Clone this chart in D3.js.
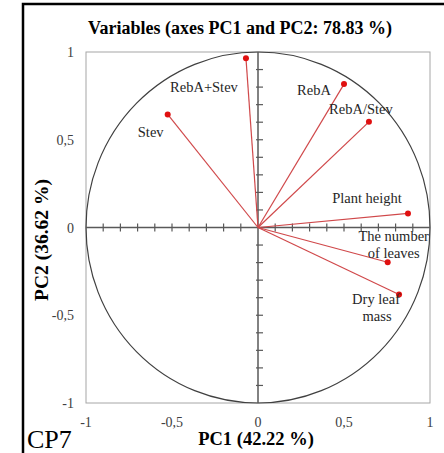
<!DOCTYPE html>
<meta charset="utf-8">
<style>
    body { margin: 0; background: #fff; }
    svg { font-family: "Liberation Serif", "Times New Roman", serif; }
    .frame { fill: none; stroke: #000; stroke-width: 2.5px; }
    .plotbox { fill: none; stroke: #a6a6a6; stroke-width: 1px; }
    .circle { fill: none; stroke: #404040; stroke-width: 1.2px; }
    .zero { stroke: #595959; stroke-width: 1.5px; }
    .tick { stroke: #595959; stroke-width: 1.2px; }
    .vec { stroke: #d0484a; stroke-width: 1.2px; }
    .pt { fill: #e01010; }
    .ticklabel { font-size: 14px; fill: #404040; }
    .varlabel { font-size: 14.5px; fill: #262626; }
    .title { font-size: 18px; font-weight: bold; }
    .axtitle { font-size: 18.5px; font-weight: bold; }
</style>

<body>
<script src="https://cdnjs.cloudflare.com/ajax/libs/d3/7.8.5/d3.min.js"></script>
<script>
    // variables and their loadings on PC1 / PC2
    var variables = ["RebA+Stev", "RebA", "RebA/Stev", "Stev", "Plant height", "The number of leaves", "Dry leaf mass"];
    var pc1 = [-0.07, 0.50, 0.645, -0.525, 0.872, 0.754, 0.82];
    var pc2 = [0.965, 0.817, 0.602, 0.644, 0.08, -0.198, -0.382];
    var tickValues = [-1, -0.5, 0, 0.5, 1];

    // label placement (pixel offsets from the point, one line per entry)
    var labelLines = [
        [["RebA+Stev", -42, 29]],
        [["RebA", -30, 6]],
        [["RebA/Stev", -8, -13]],
        [["Stev", -17, 18]],
        [["Plant height", -41, -15]],
        [["The number", 6, -26], ["of leaves", 6, -9]],
        [["Dry leaf", -23, 4], ["mass", -22, 21]]
    ];

    var W = 444, H = 453;
    var svg = d3.select("body").append("svg")
        .attr("width", W)
        .attr("height", H);

    // outer frame (runs off the right and bottom)
    svg.append("rect")
        .attr("class", "frame")
        .attr("x", 23).attr("y", 4)
        .attr("width", 460).attr("height", 470);

    var x = d3.scaleLinear().domain([-1, 1]).range([86, 430]);
    var y = d3.scaleLinear().domain([-1, 1]).range([403, 52]);
    var fmt = function(d) { return String(d).replace(".", ","); };

    svg.append("rect")
        .attr("class", "plotbox")
        .attr("x", x(-1)).attr("y", y(1))
        .attr("width", x(1) - x(-1)).attr("height", y(-1) - y(1));

    // correlation circle
    svg.append("ellipse")
        .attr("class", "circle")
        .attr("cx", x(0)).attr("cy", y(0))
        .attr("rx", x(1) - x(0)).attr("ry", y(0) - y(1));

    // axes through the origin
    svg.append("line").attr("class", "zero")
        .attr("x1", x(-1)).attr("x2", x(1)).attr("y1", y(0)).attr("y2", y(0));
    svg.append("line").attr("class", "zero")
        .attr("x1", x(0)).attr("x2", x(0)).attr("y1", y(-1)).attr("y2", y(1));

    var minor = d3.range(-9, 10).filter(function(i) { return i !== 0; }).map(function(i) { return i / 10; });
    svg.selectAll(".xt").data(minor).enter().append("line")
        .attr("class", "tick")
        .attr("x1", function(d) { return x(d); }).attr("x2", function(d) { return x(d); })
        .attr("y1", y(0) - 4).attr("y2", y(0) + 4);
    svg.selectAll(".yt").data(minor).enter().append("line")
        .attr("class", "tick")
        .attr("y1", function(d) { return y(d); }).attr("y2", function(d) { return y(d); })
        .attr("x1", x(0) - 2).attr("x2", x(0) + 5);

    // tick labels
    svg.selectAll(".yl").data(tickValues).enter().append("text")
        .attr("class", "ticklabel")
        .attr("x", 74)
        .attr("y", function(d) { return y(d) + 5; })
        .attr("text-anchor", "end")
        .text(fmt);
    svg.selectAll(".xl").data(tickValues).enter().append("text")
        .attr("class", "ticklabel")
        .attr("x", function(d) { return x(d); })
        .attr("y", 427)
        .attr("text-anchor", "middle")
        .text(fmt);

    // vectors
    var idx = d3.range(variables.length);
    svg.selectAll(".vec").data(idx).enter().append("line")
        .attr("class", "vec")
        .attr("x1", x(0)).attr("y1", y(0))
        .attr("x2", function(i) { return x(pc1[i]); })
        .attr("y2", function(i) { return y(pc2[i]); });
    svg.selectAll(".pt").data(idx).enter().append("circle")
        .attr("class", "pt")
        .attr("r", 3)
        .attr("cx", function(i) { return x(pc1[i]); })
        .attr("cy", function(i) { return y(pc2[i]); });

    // variable labels
    idx.forEach(function(i) {
        labelLines[i].forEach(function(l) {
            svg.append("text")
                .attr("class", "varlabel")
                .attr("x", x(pc1[i]) + l[1])
                .attr("y", y(pc2[i]) + l[2] + 5)
                .attr("text-anchor", "middle")
                .text(l[0]);
        });
    });

    // titles
    svg.append("text").attr("class", "title")
        .attr("x", 240).attr("y", 34)
        .attr("text-anchor", "middle")
        .text("Variables (axes PC1 and PC2: 78.83 %)");
    svg.append("text").attr("class", "axtitle")
        .attr("x", 256).attr("y", 445)
        .attr("text-anchor", "middle")
        .text("PC1 (42.22 %)");
    svg.append("text").attr("class", "axtitle")
        .attr("transform", "translate(48,240) rotate(-90)")
        .attr("text-anchor", "middle")
        .style("font-size", "19.5px")
        .text("PC2 (36.62 %)");
    svg.append("text")
        .attr("x", 27).attr("y", 448)
        .style("font-size", "26px")
        .text("CP7");
</script>
</body>
